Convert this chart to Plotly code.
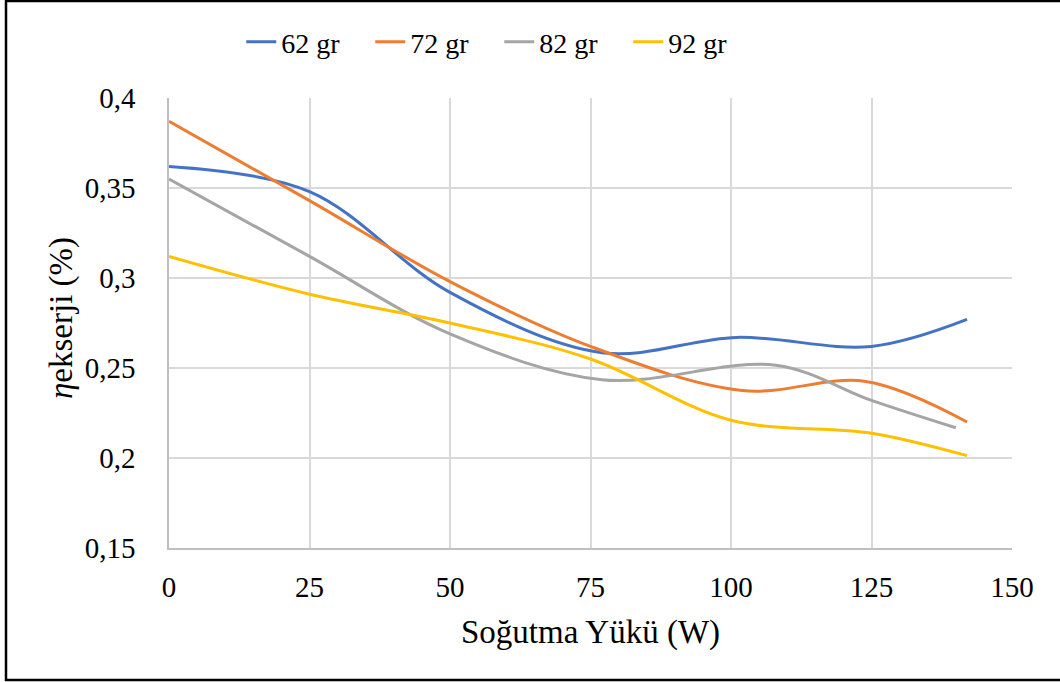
import plotly.graph_objects as go

# Data
series_names = ["62 gr", "72 gr", "82 gr", "92 gr"]
colors = ["#4472C4", "#ED7D31", "#A5A5A5", "#FFC000"]

x_62 = [0, 25, 50, 77, 101, 125, 142]
y_62 = [0.362, 0.348, 0.292, 0.2585, 0.267, 0.262, 0.277]

x_72 = [0, 25, 50, 75, 102, 124, 142]
y_72 = [0.387, 0.343, 0.298, 0.262, 0.2375, 0.2425, 0.220]

x_82 = [0, 25, 50, 77, 108, 125, 140]
y_82 = [0.355, 0.312, 0.269, 0.2435, 0.2515, 0.232, 0.2168]

x_92 = [0, 25, 50, 75, 100, 125, 142]
y_92 = [0.312, 0.291, 0.275, 0.255, 0.221, 0.2138, 0.2013]

xs = [x_62, x_72, x_82, x_92]
ys = [y_62, y_72, y_82, y_92]

x_ticks = [0, 25, 50, 75, 100, 125, 150]
y_ticks = [0.15, 0.2, 0.25, 0.3, 0.35, 0.4]

FONT = "Liberation Serif"

fig = go.Figure()
for name, c, x, y in zip(series_names, colors, xs, ys):
    fig.add_trace(go.Scatter(
        x=x, y=y, name=name, mode="lines",
        line=dict(color=c, width=3, shape="spline", smoothing=1.0),
    ))

W, H = 1060, 682
L, R, T, B = 169, 48, 98, 134
pw, ph = W - L - R, H - T - B

def px_x(p):
    return (p - L) / pw

def px_y(p):
    return (H - B - p) / ph

fig.update_layout(
    width=W, height=H, autosize=False,
    margin=dict(l=L, r=R, t=T, b=B, pad=0),
    paper_bgcolor="white", plot_bgcolor="white",
    separators=", ",
    font=dict(family=FONT, size=29, color="black"),
    showlegend=True,
    legend=dict(
        orientation="h", xref="container", yref="container",
        x=0.471, xanchor="center", y=1 - 42 / H, yanchor="middle",
        font=dict(family=FONT, size=28, color="black"),
        entrywidth=84, entrywidthmode="pixels",
        bgcolor="rgba(0,0,0,0)",
    ),
    xaxis=dict(
        range=[0, 150], tickvals=x_ticks,
        showgrid=True, gridcolor="#D9D9D9", gridwidth=1.5,
        showline=True, linecolor="#BFBFBF", linewidth=1.5,
        zeroline=False,
        ticks="outside", ticklen=12, tickcolor="rgba(0,0,0,0)",
        tickfont=dict(family=FONT, size=29, color="black"),
    ),
    yaxis=dict(
        range=[0.15, 0.4], tickvals=y_ticks,
        showgrid=True, gridcolor="#D9D9D9", gridwidth=1.5,
        showline=True, linecolor="#BFBFBF", linewidth=1.5,
        zeroline=False,
        ticks="outside", ticklen=26, tickcolor="rgba(0,0,0,0)",
        tickfont=dict(family=FONT, size=29, color="black"),
    ),
    annotations=[
        dict(text="Soğutma Yükü (W)", xref="paper", yref="paper",
             x=0.5, y=px_y(632), xanchor="center", yanchor="middle",
             showarrow=False, font=dict(family=FONT, size=33, color="black")),
        dict(text="<i>η</i>ekserji (%)", xref="paper", yref="paper",
             x=px_x(61), y=px_y(318), xanchor="center", yanchor="middle",
             textangle=-90, showarrow=False,
             font=dict(family=FONT, size=33, color="black")),
    ],
    shapes=[
        dict(type="rect", xref="paper", yref="paper",
             x0=px_x(6), x1=px_x(1063), y0=px_y(680), y1=px_y(1),
             line=dict(color="black", width=2.5), fillcolor="rgba(0,0,0,0)",
             layer="above"),
    ],
)

fig.write_html("out.html")
